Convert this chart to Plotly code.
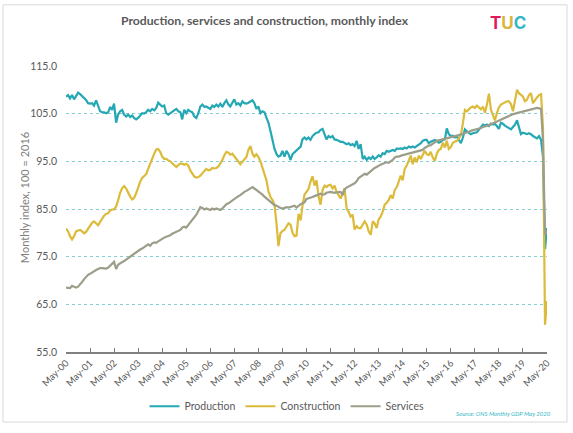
import pandas as pd
import plotly.graph_objects as go

# Monthly categories, May 2000 - May 2020
months = pd.date_range("2000-05-01", "2020-05-01", freq="MS")

production = [
    108.6,108.9,108.2,108.9,108.0,108.7,109.4,109.1,108.7,108.4,107.9,107.2,
    107.1,107.2,106.7,107.8,106.5,105.5,105.3,105.3,105.1,105.3,106.4,105.8,
    107.1,103.1,104.8,105.5,105.8,104.8,104.4,104.8,104.3,104.6,104.1,103.8,
    104.1,104.6,105.1,105.0,105.3,105.8,105.5,106.0,105.7,106.2,107.3,106.9,
    106.5,106.7,105.1,104.8,105.1,105.5,105.8,106.0,105.5,105.3,103.8,105.8,
    105.1,105.8,105.5,105.3,104.4,104.1,105.1,106.5,106.9,106.4,106.5,106.2,
    106.0,106.7,106.4,106.9,106.5,107.1,106.4,107.2,107.8,106.9,106.5,107.3,
    108.0,106.9,107.2,106.7,107.6,107.2,107.1,107.3,107.6,107.8,107.2,106.0,
    106.5,105.1,105.5,105.3,104.1,103.1,101.3,99.3,97.6,96.5,96.0,96.2,
    97.2,96.0,97.2,96.5,95.3,96.5,96.9,97.2,97.6,98.1,99.6,100.0,
    99.6,100.0,99.5,100.3,100.7,101.0,101.1,101.6,101.8,100.7,99.6,100.3,
    100.0,100.3,99.6,99.5,99.3,99.1,99.1,98.9,98.6,98.8,98.4,98.6,
    98.2,99.3,97.6,98.6,95.5,96.0,95.3,95.8,95.5,96.0,95.5,95.8,
    96.3,96.0,96.7,96.5,97.2,97.0,97.2,97.4,97.2,97.7,97.6,97.7,
    97.6,97.9,97.7,98.1,97.9,98.1,97.9,98.2,98.6,98.8,99.3,99.5,
    99.5,98.8,99.1,99.3,99.5,99.3,98.9,99.1,99.5,99.6,101.9,100.7,
    100.3,100.4,100.0,100.2,99.6,98.8,100.0,101.7,101.3,100.9,100.7,100.9,
    101.0,101.1,101.6,102.2,102.7,102.5,102.7,102.4,102.9,102.7,102.9,102.4,
    101.8,103.1,102.9,102.5,102.2,102.0,101.7,102.2,102.7,103.6,102.0,100.7,
    101.0,100.9,100.7,100.9,100.7,100.3,100.0,99.8,100.3,99.5,96.0,76.6,
    81.0,
]

construction = [
    80.9,80.3,79.3,78.6,79.3,80.3,80.5,80.6,80.3,79.9,80.2,80.9,
    81.5,82.1,82.4,81.9,81.6,82.3,83.0,83.6,84.0,84.1,84.7,84.9,
    84.9,85.5,86.8,88.4,89.4,89.8,89.3,88.3,87.6,87.0,87.3,88.3,
    89.7,90.7,91.5,92.0,92.3,93.4,94.6,95.8,96.6,97.5,97.6,97.0,
    96.0,95.5,95.5,95.2,95.0,94.6,94.2,93.8,94.2,94.5,94.5,94.3,
    94.5,94.1,93.1,92.4,91.8,91.6,91.7,92.0,92.6,93.0,93.4,93.1,
    93.2,93.6,93.5,93.6,93.9,94.5,95.3,96.3,97.0,96.8,96.4,96.6,
    96.0,95.5,94.9,94.4,94.9,95.3,95.9,97.4,98.2,96.6,96.0,96.5,
    95.9,95.0,93.6,92.5,91.0,88.7,87.5,86.9,85.9,81.8,77.2,79.9,
    80.4,80.6,81.2,82.0,81.7,80.0,79.3,79.4,84.0,82.6,85.6,88.0,
    88.6,89.2,90.7,91.9,89.9,91.0,87.6,85.9,89.0,89.9,89.6,90.0,
    90.1,89.3,89.9,88.6,87.9,87.2,88.2,89.3,85.1,84.4,83.4,83.8,
    80.7,81.4,81.0,81.0,81.7,82.4,81.7,80.3,79.6,82.4,82.0,81.0,
    82.8,83.4,84.4,85.9,86.3,86.9,87.9,87.2,89.0,89.6,90.7,92.0,
    91.0,93.4,94.1,95.2,96.2,94.4,95.8,94.8,96.2,95.5,96.2,97.2,
    96.5,96.3,97.0,95.8,95.1,96.6,97.4,97.6,98.9,97.9,99.3,97.6,
    98.0,98.9,99.1,99.3,99.8,100.5,103.0,105.8,105.5,106.0,106.3,106.5,
    106.2,106.7,106.2,105.9,106.5,105.2,106.9,109.2,105.8,104.8,103.6,105.1,
    106.3,106.9,107.1,107.4,107.6,107.6,107.0,105.5,107.6,110.0,109.3,109.0,
    108.6,107.6,107.9,108.9,109.3,107.2,107.9,108.4,108.9,109.1,102.0,60.7,
    65.7,
]

services = [
    68.5,68.5,68.4,68.9,68.6,68.5,68.7,69.1,69.7,70.3,70.8,71.2,
    71.4,71.7,72.0,72.2,72.4,72.6,72.6,72.6,72.5,72.7,73.1,73.6,
    73.9,72.4,73.3,73.6,73.8,74.1,74.4,74.7,75.1,75.4,75.7,76.0,
    76.3,76.5,76.7,77.0,77.4,77.6,77.3,77.8,78.0,77.9,78.2,78.5,
    78.8,79.0,79.2,79.3,79.5,79.8,80.0,80.3,80.4,80.6,81.1,81.3,
    81.1,81.6,82.2,82.7,83.3,83.8,84.6,85.4,85.2,84.9,85.1,85.0,
    84.8,85.1,84.9,85.1,85.0,84.8,85.1,85.6,86.0,86.2,86.5,86.8,
    87.2,87.4,87.7,87.9,88.3,88.6,88.8,89.1,89.4,89.6,89.3,89.0,
    88.7,88.3,88.0,87.6,87.2,86.8,86.5,86.2,85.8,85.7,85.4,85.2,
    85.1,85.2,85.4,85.3,85.4,85.5,85.7,85.3,85.7,86.0,86.2,86.4,
    87.1,87.2,87.3,87.5,87.7,87.9,88.0,88.2,88.0,88.1,88.4,88.5,
    88.6,88.5,88.4,88.5,88.5,88.6,87.9,89.1,89.5,89.7,89.9,90.1,
    90.4,90.8,91.5,91.8,92.1,92.4,92.2,92.6,93.0,93.4,93.6,93.8,
    94.1,94.3,94.5,94.7,94.8,94.7,95.0,95.3,95.8,96.0,96.0,96.2,
    96.3,96.4,96.5,96.6,96.7,96.8,96.9,97.0,97.1,97.2,97.4,97.8,
    98.1,98.3,98.4,98.8,99.0,99.3,99.4,99.5,99.6,99.7,99.8,99.9,
    100.1,100.2,100.3,100.4,100.5,100.7,100.8,100.9,101.1,101.2,101.4,101.5,
    101.7,101.7,101.9,102.0,102.2,102.3,102.5,102.6,102.8,103.0,103.2,103.4,
    103.6,103.8,103.9,104.1,104.4,104.6,104.8,104.9,105.0,105.1,105.2,105.3,
    105.4,105.5,105.7,105.8,105.9,106.0,106.1,106.2,106.1,106.0,99.4,79.6,
    80.4,
]

series_names = ["Production", "Construction", "Services"]
series_colors = ["#25a8b4", "#dcbb3a", "#9c9e89"]
y_ticks = [55, 65, 75, 85, 95, 105, 115]

title_text = "Production, services and construction, monthly index"
y_title = "Monthly index, 100 = 2016"
source_text = "Source: ONS Monthly GDP May 2020"

FONT = "Lato"
TXT = "#595959"

fig = go.Figure()
for name, vals, col in zip(series_names, [production, construction, services], series_colors):
    fig.add_trace(go.Scatter(x=months, y=vals, mode="lines", name=name,
                             line=dict(color=col, width=2.2)))

# pixel helpers for placing decorations (plot area: x 66..547, y 66..356)
L, R, T, B = 66, 547, 66, 356
def px(x):
    return (x - L) / (R - L)
def py(y):
    return (B - y) / (B - T)

fig.update_layout(
    width=573, height=433,
    margin=dict(l=L, r=573 - R, t=T, b=433 - B),
    paper_bgcolor="white", plot_bgcolor="white",
    font=dict(family=FONT, color=TXT, size=10),
    showlegend=True,
    legend=dict(orientation="h", x=px(287), y=py(411), xanchor="center", yanchor="middle",
                font=dict(size=10.5, color=TXT), itemwidth=30, tracegroupgap=0,
                bgcolor="rgba(0,0,0,0)"),
    xaxis=dict(
        type="date",
        range=[months[0], months[-1]],
        tick0="2000-05-01", dtick="M12", tickformat="%b-%y",
        tickangle=-45, tickfont=dict(size=9.5, color=TXT),
        showgrid=False, zeroline=False,
        showline=True, linecolor="#808080", linewidth=1.5,
        ticks="inside", ticklen=4, tickcolor="#808080", tickwidth=1,
    ),
    yaxis=dict(
        range=[55, 115], tickvals=y_ticks, tickformat=".1f",
        tickfont=dict(size=10.5, color=TXT),
        showgrid=True, gridcolor="#84cfd6", griddash="dot", gridwidth=1,
        zeroline=False, showline=False, ticks="", ticklabelstandoff=8,
    ),
    annotations=[
        dict(text="<b>" + title_text + "</b>", x=px(265), y=py(20), xref="paper", yref="paper",
             showarrow=False, xanchor="center", yanchor="middle",
             font=dict(family=FONT, size=12.2, color=TXT)),
        dict(text='<b><span style="color:#e3185b">T</span><span style="color:#d8b73f">U</span>'
                  '<span style="color:#35b6c6">C</span></b>',
             x=px(508), y=py(22), xref="paper", yref="paper", showarrow=False,
             xanchor="center", yanchor="middle", font=dict(family="Inter", size=17)),
        dict(text=y_title, x=px(24), y=py(200), xref="paper", yref="paper",
             showarrow=False, textangle=-90, xanchor="center", yanchor="middle",
             font=dict(family=FONT, size=11, color="#7f7f7f")),
        dict(text="<i>" + source_text + "</i>", x=px(553), y=py(418), xref="paper", yref="paper",
             showarrow=False, xanchor="right", yanchor="middle",
             font=dict(family=FONT, size=6, color="#35b6c6")),
    ],
    shapes=[
        dict(type="rect", xref="paper", yref="paper",
             x0=px(3), x1=px(567), y0=py(427), y1=py(4),
             line=dict(color="#d9d9d9", width=1), fillcolor="rgba(0,0,0,0)", layer="below"),
    ],
)

fig.write_html("out.html")
